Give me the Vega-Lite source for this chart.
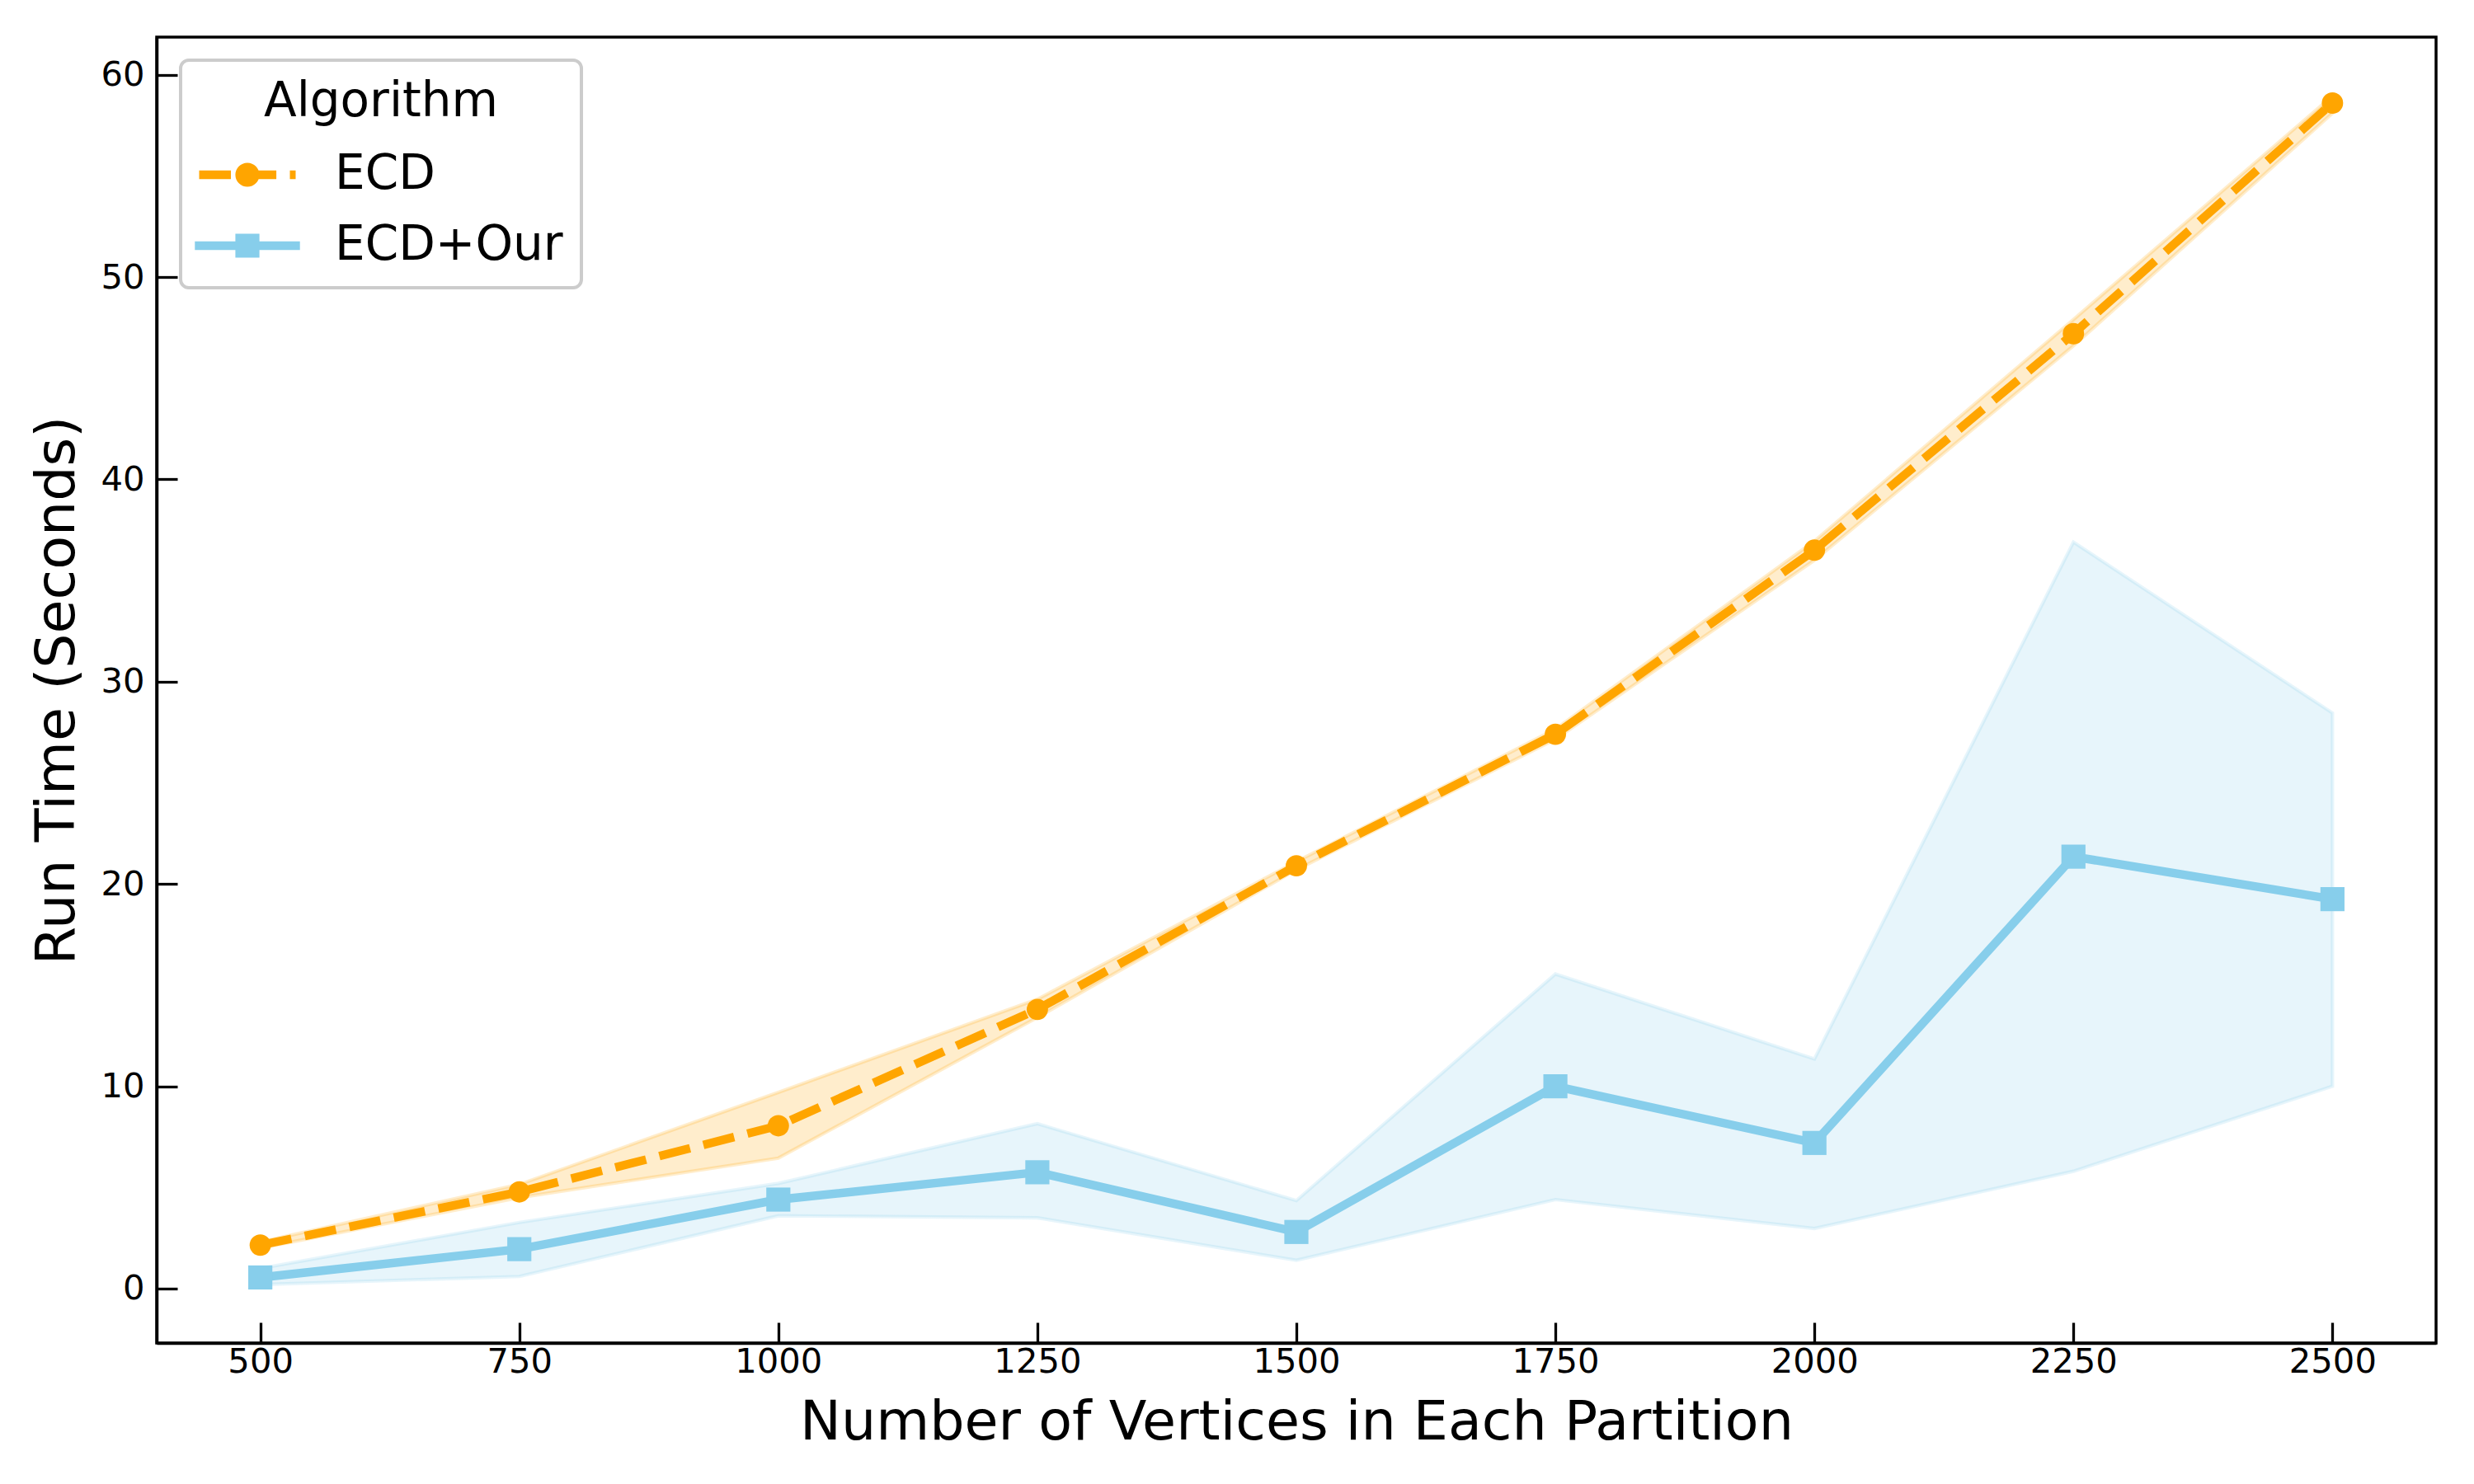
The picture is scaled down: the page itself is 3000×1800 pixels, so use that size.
{
  "$schema": "https://vega.github.io/schema/vega-lite/v6.json",
  "width": 2764,
  "height": 1584,
  "autosize": {"type": "none"},
  "padding": {"left": 190, "top": 45, "right": 46, "bottom": 171},
  "background": "white",
  "config": {
    "font": "DejaVu Sans",
    "view": {"stroke": "black", "strokeWidth": 3.5},
    "axis": {
      "domainColor": "black", "domainWidth": 3.5,
      "tickColor": "black", "tickWidth": 3.3, "tickSize": -25,
      "labelFont": "DejaVu Sans", "labelFontSize": 41.7, "labelColor": "black",
      "titleFont": "DejaVu Sans", "titleFontSize": 66.7, "titleFontWeight": "normal", "titleColor": "black",
      "grid": false, "labelFlush": false
    },
    "legend": {
      "orient": "none", "direction": "vertical",
      "titleFont": "DejaVu Sans", "titleFontSize": 58, "titleFontWeight": "normal", "titleColor": "black",
      "labelFont": "DejaVu Sans", "labelFontSize": 58, "labelColor": "black",
      "labelLimit": 2000, "titleLimit": 2000
    }
  },
  "data": {
    "values": [
      {"vertices": 500, "algorithm": "ECD", "mean": 2.15, "lo": 2.0, "hi": 2.3},
      {"vertices": 750, "algorithm": "ECD", "mean": 4.78, "lo": 4.5, "hi": 5.15},
      {"vertices": 1000, "algorithm": "ECD", "mean": 8.05, "lo": 6.45, "hi": 9.7},
      {"vertices": 1250, "algorithm": "ECD", "mean": 13.8, "lo": 13.4, "hi": 14.3},
      {"vertices": 1500, "algorithm": "ECD", "mean": 20.9, "lo": 20.7, "hi": 21.1},
      {"vertices": 1750, "algorithm": "ECD", "mean": 27.4, "lo": 27.15, "hi": 27.65},
      {"vertices": 2000, "algorithm": "ECD", "mean": 36.5, "lo": 36.0, "hi": 36.95},
      {"vertices": 2250, "algorithm": "ECD", "mean": 47.2, "lo": 46.6, "hi": 47.9},
      {"vertices": 2500, "algorithm": "ECD", "mean": 58.6, "lo": 58.1, "hi": 58.95},
      {"vertices": 500, "algorithm": "ECD+Our", "mean": 0.55, "lo": 0.2, "hi": 1.0},
      {"vertices": 750, "algorithm": "ECD+Our", "mean": 1.95, "lo": 0.6, "hi": 3.27},
      {"vertices": 1000, "algorithm": "ECD+Our", "mean": 4.4, "lo": 3.6, "hi": 5.2},
      {"vertices": 1250, "algorithm": "ECD+Our", "mean": 5.75, "lo": 3.5, "hi": 8.15},
      {"vertices": 1500, "algorithm": "ECD+Our", "mean": 2.8, "lo": 1.4, "hi": 4.35},
      {"vertices": 1750, "algorithm": "ECD+Our", "mean": 10.0, "lo": 4.4, "hi": 15.55},
      {"vertices": 2000, "algorithm": "ECD+Our", "mean": 7.2, "lo": 2.97, "hi": 11.35},
      {"vertices": 2250, "algorithm": "ECD+Our", "mean": 21.35, "lo": 5.8, "hi": 36.9},
      {"vertices": 2500, "algorithm": "ECD+Our", "mean": 19.25, "lo": 10.0, "hi": 28.45}
    ]
  },
  "encoding": {
    "x": {
      "field": "vertices", "type": "quantitative",
      "scale": {"domain": [400, 2600], "nice": false, "zero": false},
      "axis": {
        "values": [500, 750, 1000, 1250, 1500, 1750, 2000, 2250, 2500],
        "format": "d",
        "title": "Number of Vertices in Each Partition",
        "labelPadding": 27,
        "titlePadding": 20
      }
    },
    "y": {
      "field": "mean", "type": "quantitative",
      "scale": {"domain": [-2.69, 61.86], "nice": false, "zero": false},
      "axis": {"values": [0, 10, 20, 30, 40, 50, 60], "title": "Run Time (Seconds)", "labelPadding": 40, "titlePadding": 18}
    }
  },
  "layer": [
    {
      "transform": [{"filter": "datum.algorithm === 'ECD'"}],
      "mark": {"type": "area", "color": "#FFA500", "fillOpacity": 0.2, "stroke": "#FFA500", "strokeOpacity": 0.2, "strokeWidth": 4.2},
      "encoding": {
        "y": {
          "field": "lo", "type": "quantitative",
          "scale": {"domain": [-2.69, 61.86], "nice": false, "zero": false},
          "axis": {"values": [0, 10, 20, 30, 40, 50, 60], "title": "Run Time (Seconds)", "labelPadding": 40, "titlePadding": 18}
        },
        "y2": {"field": "hi"}
      }
    },
    {
      "transform": [{"filter": "datum.algorithm === 'ECD+Our'"}],
      "mark": {"type": "area", "color": "#87CEEB", "fillOpacity": 0.2, "stroke": "#87CEEB", "strokeOpacity": 0.2, "strokeWidth": 4.2},
      "encoding": {
        "y": {
          "field": "lo", "type": "quantitative",
          "scale": {"domain": [-2.69, 61.86], "nice": false, "zero": false},
          "axis": {"values": [0, 10, 20, 30, 40, 50, 60], "title": "Run Time (Seconds)", "labelPadding": 40, "titlePadding": 18}
        },
        "y2": {"field": "hi"}
      }
    },
    {
      "transform": [{"filter": "datum.algorithm === 'ECD'"}],
      "mark": {"type": "line", "strokeWidth": 10.4, "strokeDash": [38.5, 16.6]},
      "encoding": {
        "color": {
          "field": "algorithm", "type": "nominal",
          "scale": {"domain": ["ECD", "ECD+Our"], "range": ["#FFA500", "#87CEEB"]},
          "legend": {
            "title": "Algorithm",
            "legendX": 29, "legendY": 28,
            "titleAnchor": "middle", "titlePadding": 30,
            "labelOffset": 77,
            "labelLimit": 2000, "titleLimit": 2000,
            "symbolSize": 3364, "symbolOffset": 30, "symbolStrokeWidth": 0,
            "rowPadding": 28,
            "padding": 22,
            "fillColor": "rgba(255,255,255,0.8)", "strokeColor": "#cccccc", "cornerRadius": 10,
            "encode": {
              "legend": {"update": {"strokeWidth": {"value": 4}}},
              "symbols": {
                "update": {
                  "shape": {"signal": "datum.value === 'ECD' ? 'M-2.017,-0.179H-0.69V0.179H-2.017Z M-0.121,-0.179H1.21V0.179H-0.121Z M1.776,-0.179H2.017V0.179H1.776Z M-0.503,0A0.503,0.503,0,1,1,0.503,0A0.503,0.503,0,1,1,-0.503,0Z' : 'M-2.197,-0.179H2.197V0.179H-2.197Z M-0.503,-0.503H0.503V0.503H-0.503Z'"},
                  "fill": {"signal": "datum.value === 'ECD' ? '#FFA500' : '#87CEEB'"},
                  "stroke": {"value": "transparent"},
                  "strokeWidth": {"value": 0},
                  "opacity": {"value": 1}
                }
              }
            }
          }
        }
      }
    },
    {
      "transform": [{"filter": "datum.algorithm === 'ECD'"}],
      "mark": {"type": "point", "shape": "circle", "size": 670, "filled": true, "color": "#FFA500", "opacity": 1, "strokeWidth": 0}
    },
    {
      "transform": [{"filter": "datum.algorithm === 'ECD+Our'"}],
      "mark": {"type": "line", "strokeWidth": 10.4},
      "encoding": {
        "color": {
          "field": "algorithm", "type": "nominal",
          "scale": {"domain": ["ECD", "ECD+Our"], "range": ["#FFA500", "#87CEEB"]}
        }
      }
    },
    {
      "transform": [{"filter": "datum.algorithm === 'ECD+Our'"}],
      "mark": {"type": "point", "shape": "square", "size": 853, "filled": true, "color": "#87CEEB", "opacity": 1, "strokeWidth": 0}
    }
  ]
}
